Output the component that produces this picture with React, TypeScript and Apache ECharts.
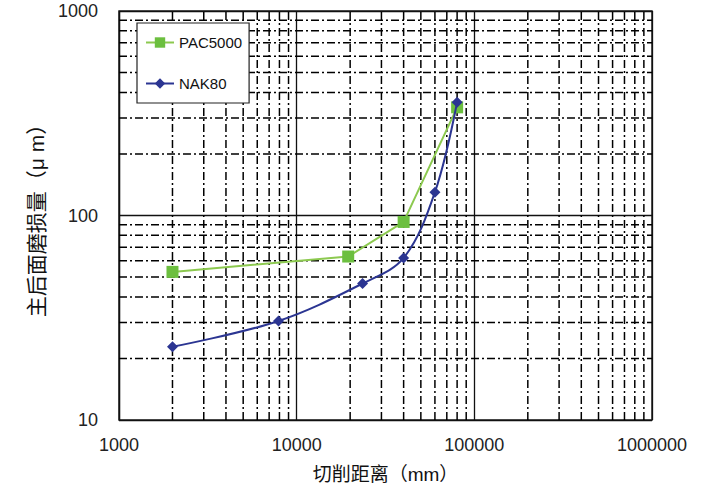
import React, { useEffect, useRef } from "react";
import * as echarts from "echarts";

const pacX = [2000, 19500, 40000, 80000];
const pacY = [53, 63, 93, 338];
const nakX = [2000, 7900, 23500, 40000, 60000, 80000];
const nakY = [22.8, 30.5, 46.5, 62, 130, 358];
const xTicks = [1000, 10000, 100000, 1000000];
const yTicks = [10, 100, 1000];
const minorMult = [2, 3, 4, 5, 6, 7, 8, 9];

const FONT = "'Liberation Sans', Arial, 'Noto Sans CJK SC', sans-serif";

export default function App() {
  const ref = useRef<HTMLDivElement>(null);
  useEffect(() => {
    if (!ref.current) return;
    const chart = echarts.init(ref.current, null, { renderer: "svg" });
    const minorX: number[] = [];
    for (let i = 0; i < xTicks.length - 1; i++) minorMult.forEach((m) => minorX.push(xTicks[i] * m));
    const minorY: number[] = [];
    for (let i = 0; i < yTicks.length - 1; i++) minorMult.forEach((m) => minorY.push(yTicks[i] * m));
    const gridStyle = { color: "#000", width: 1.5, type: [8, 3, 2, 3] as any };
    const gridSeries: any[] = [];
    minorX.forEach((x) =>
      gridSeries.push({
        type: "line",
        silent: true,
        symbol: "none",
        data: [[x, 10], [x, 1000]],
        lineStyle: gridStyle,
        z: 1,
      })
    );
    minorY.forEach((y) =>
      gridSeries.push({
        type: "line",
        silent: true,
        symbol: "none",
        data: [[1000, y], [1000000, y]],
        lineStyle: gridStyle,
        z: 1,
      })
    );
    chart.setOption({
      animation: false,
      backgroundColor: "#fff",
      textStyle: { fontFamily: FONT },
      grid: {
        left: 119,
        top: 11,
        right: 72,
        bottom: 69,
        show: true,
        borderColor: "#222",
        borderWidth: 1.5,
        backgroundColor: "transparent",
      },
      legend: {
        data: ["PAC5000", "NAK80"],
        orient: "vertical",
        left: 137,
        top: 23,
        itemGap: 26,
        itemWidth: 28,
        itemHeight: 13,
        padding: [12, 7, 12, 8],
        backgroundColor: "#fff",
        borderColor: "#222",
        borderWidth: 1.2,
        textStyle: { fontSize: 15, color: "#111", fontFamily: FONT },
        z: 10,
      },
      xAxis: {
        type: "log",
        logBase: 10,
        min: 1000,
        max: 1000000,
        name: "切削距离（mm）",
        nameLocation: "middle",
        nameGap: 45,
        nameTextStyle: { fontSize: 19, color: "#111", fontFamily: FONT },
        axisLine: { show: false },
        axisTick: { show: false },
        axisLabel: {
          fontSize: 18,
          color: "#222",
          margin: 16,
          fontFamily: FONT,
          formatter: (v: number) => String(Math.round(v)),
        },
        splitLine: { show: true, lineStyle: { color: "#111", width: 1.3, type: "solid" } },
      },
      yAxis: {
        type: "log",
        logBase: 10,
        min: 10,
        max: 1000,
        name: "主后面磨损量（μ m）",
        nameLocation: "middle",
        nameGap: 70,
        nameTextStyle: { fontSize: 21, color: "#111", fontFamily: FONT },
        axisLine: { show: false },
        axisTick: { show: false },
        axisLabel: {
          fontSize: 18,
          color: "#222",
          margin: 21,
          fontFamily: FONT,
          formatter: (v: number) => String(Math.round(v)),
        },
        splitLine: { show: true, lineStyle: { color: "#111", width: 1.3, type: "solid" } },
      },
      series: [
        ...gridSeries,
        {
          name: "PAC5000",
          type: "line",
          data: pacX.map((x, i) => [x, pacY[i]]),
          symbol: "rect",
          symbolSize: 12,
          itemStyle: { color: "#6cbf3f" },
          lineStyle: { color: "#8cc94f", width: 2 },
          z: 5,
        },
        {
          name: "NAK80",
          type: "line",
          data: nakX.map((x, i) => [x, nakY[i]]),
          symbol: "diamond",
          symbolSize: 11,
          smooth: 0.35,
          itemStyle: { color: "#2b3592" },
          lineStyle: { color: "#2b3592", width: 2 },
          z: 6,
        },
      ],
    });
    return () => chart.dispose();
  }, []);
  return (
    <div
      ref={ref}
      style={{ position: "fixed", left: 0, top: 0, width: 724, height: 489 }}
    />
  );
}
